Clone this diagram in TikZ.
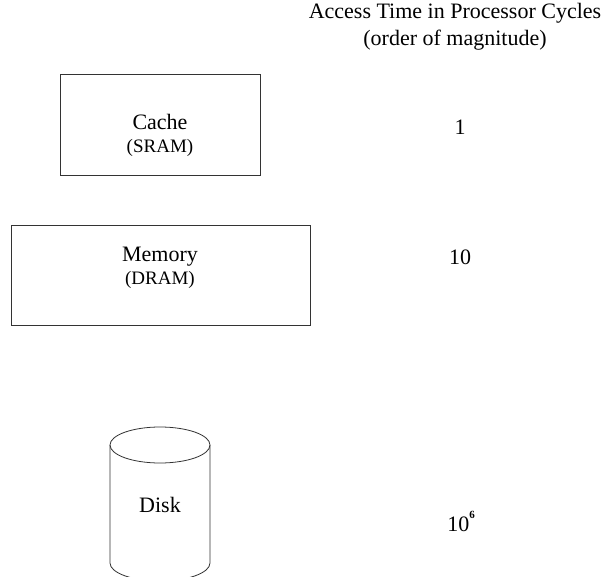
\documentclass[tikz,border=0pt]{standalone}
\usepackage{fontspec}
\setmainfont{Liberation Serif}

\begin{document}
\begin{tikzpicture}[
  x=1pt,y=-1pt,
  unit/.style={draw=black!80,line width=0.8pt,inner sep=0pt},
  lbl/.style={align=center,inner sep=0pt,font=\fontsize{22}{23}\selectfont},
  small/.style={font=\fontsize{19}{19}\selectfont},
  every node/.append style={font=\fontsize{22}{27}\selectfont}
]
  \useasboundingbox (0,0) rectangle (605,577);

  \node[align=center] (head) at (455,27) {Access Time in Processor Cycles\\(order of magnitude)};

  % storage levels
  \node[unit,minimum width=200pt,minimum height=101pt] (cache) at (160,124.5) {};
  \node[lbl] (cachelbl) at (160,135) {Cache\\{\fontsize{19}{19}\selectfont (SRAM)}};
  \node[unit,minimum width=299pt,minimum height=100pt] (mem) at (160.5,275) {};
  \node[lbl] (memlbl) at (160,268) {Memory\\{\fontsize{19}{19}\selectfont (DRAM)}};

  % disk drawn as a cylinder
  \draw[black!80,line width=0.8pt] (160,445) ellipse (50 and 18);
  \draw[black!80,line width=0.8pt] (110,445) -- (110,563) arc[start angle=180,end angle=360,x radius=50,y radius=-18] -- (210,445);
  \node (disk) at (160,505) {Disk};

  % access times
  \node (tcache) at (460,127) {1};
  \node (tmem) at (460,257) {10};
  \node (tdisk) at (461,521) {10\raisebox{13pt}{\fontsize{11}{11}\selectfont\bfseries 6}};
\end{tikzpicture}
\end{document}
